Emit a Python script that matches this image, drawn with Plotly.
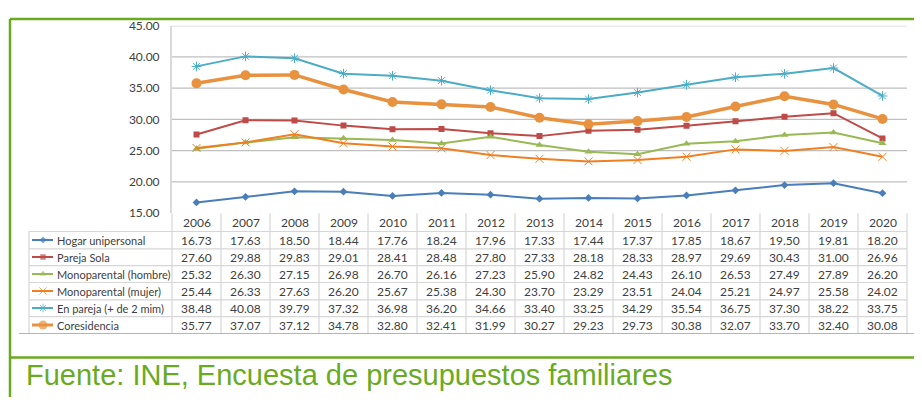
import plotly.graph_objects as go

years = [str(y) for y in range(2006, 2021)]
series_names = ["Hogar unipersonal", "Pareja Sola", "Monoparental (hombre)",
                "Monoparental (mujer)", "En pareja (+ de 2 mim)", "Coresidencia"]
hogar = [16.73, 17.63, 18.50, 18.44, 17.76, 18.24, 17.96, 17.33, 17.44, 17.37, 17.85, 18.67, 19.50, 19.81, 18.20]
pareja_sola = [27.60, 29.88, 29.83, 29.01, 28.41, 28.48, 27.80, 27.33, 28.18, 28.33, 28.97, 29.69, 30.43, 31.00, 26.96]
mono_hombre = [25.32, 26.30, 27.15, 26.98, 26.70, 26.16, 27.23, 25.90, 24.82, 24.43, 26.10, 26.53, 27.49, 27.89, 26.20]
mono_mujer = [25.44, 26.33, 27.63, 26.20, 25.67, 25.38, 24.30, 23.70, 23.29, 23.51, 24.04, 25.21, 24.97, 25.58, 24.02]
en_pareja = [38.48, 40.08, 39.79, 37.32, 36.98, 36.20, 34.66, 33.40, 33.25, 34.29, 35.54, 36.75, 37.30, 38.22, 33.75]
coresidencia = [35.77, 37.07, 37.12, 34.78, 32.80, 32.41, 31.99, 30.27, 29.23, 29.73, 30.38, 32.07, 33.70, 32.40, 30.08]
all_values = [hogar, pareja_sola, mono_hombre, mono_mujer, en_pareja, coresidencia]
y_ticks = [15, 20, 25, 30, 35, 40, 45]
source_text = "Fuente: INE, Encuesta de presupuestos familiares"

styles = [
    dict(color="#4A7EBB", width=2, symbol="diamond", size=6, mline=0),
    dict(color="#BE4B48", width=2, symbol="square", size=6, mline=0),
    dict(color="#98B954", width=2, symbol="triangle-up", size=7, mline=0),
    dict(color="#F07F22", width=2, symbol="x-thin-open", size=8, mline=1),
    dict(color="#4BACC6", width=2, symbol="asterisk-open", size=8, mline=1),
    dict(color="#E8913F", width=3.5, symbol="circle", size=10, mline=0),
]

# page has an 8px body margin: figure is drawn at (8, 8); keep it inside the window
OFF = 8
W, H = 922 - 2 * OFF, 412 - 2 * OFF
def px(x): return (x - OFF) / W
def py(y): return 1 - (y - OFF) / H

FONT = "Lato, Calibri, sans-serif"
TXT = "#404040"
GREEN = "#6AAA1E"

fig = go.Figure()

for name, vals, st in zip(series_names, all_values, styles):
    fig.add_trace(go.Scatter(
        x=years, y=vals, mode="lines+markers", name=name,
        line=dict(color=st["color"], width=st["width"]),
        marker=dict(symbol=st["symbol"], size=st["size"], color=st["color"],
                    line=dict(color=st["color"], width=st["mline"])),
        showlegend=False, xaxis="x", yaxis="y"))

# legend icons in the table's first column
for i, (name, st) in enumerate(zip(series_names, styles)):
    fig.add_trace(go.Scatter(
        x=[32, 43, 53], y=[i, i, i], mode="lines+markers",
        line=dict(color=st["color"], width=min(st["width"], 3)),
        marker=dict(symbol=st["symbol"], size=[0, st["size"] * 0.9, 0], color=st["color"],
                    line=dict(color=st["color"], width=st["mline"])),
        showlegend=False, xaxis="x2", yaxis="y2", hoverinfo="skip"))

shapes = []
for t in y_ticks[1:-1]:
    shapes.append(dict(type="line", xref="x domain", yref="y", x0=0, x1=1, y0=t, y1=t,
                       line=dict(color="#BFBFBF", width=1.3), layer="below"))
shapes.append(dict(type="line", xref="x domain", yref="y", x0=0, x1=1, y0=45, y1=45,
                   line=dict(color="#EBEBEB", width=3), layer="below"))

# table grid
col_w = (907 - 172) / 15
row_edges = [213, 232, 250, 267.5, 285, 303, 320.5, 338]
grid_col = "#D6D6D6"
for k in range(16):
    x = 172 + k * col_w
    shapes.append(dict(type="line", xref="paper", yref="paper", x0=px(x), x1=px(x),
                       y0=py(213), y1=py(338), line=dict(color=grid_col, width=1.2)))
shapes.append(dict(type="line", xref="paper", yref="paper", x0=px(29), x1=px(29),
                   y0=py(232), y1=py(338), line=dict(color=grid_col, width=1.2)))
for j, ye in enumerate(row_edges):
    if j == 0:
        continue
    last = j == len(row_edges) - 1
    x0 = 19 if last else 29
    x1 = 922 if last else 907
    shapes.append(dict(type="line", xref="paper", yref="paper", x0=px(x0), x1=min(1, px(x1)),
                       y0=py(ye), y1=py(ye),
                       line=dict(color="#B5B5B5" if last else grid_col, width=1.2)))

# green frame
shapes += [
    dict(type="line", xref="paper", yref="paper", x0=px(10), x1=1, y0=py(11), y1=py(11),
         line=dict(color=GREEN, width=2.5)),
    dict(type="line", xref="paper", yref="paper", x0=px(10), x1=px(10), y0=py(11), y1=0,
         line=dict(color=GREEN, width=2.5)),
    dict(type="line", xref="paper", yref="paper", x0=px(10), x1=1, y0=py(363), y1=py(363),
         line=dict(color=GREEN, width=2.5)),
]

annotations = []
row_centers = [(row_edges[i] + row_edges[i + 1]) / 2 for i in range(len(row_edges) - 1)]
cell_font = dict(family=FONT, size=12, color=TXT)
label_font = dict(family=FONT, size=11, color=TXT)
for i, yr in enumerate(years):
    annotations.append(dict(x=i, xref="x", y=py(row_centers[0]), yref="paper", text=yr,
                            xanchor="center", yanchor="middle", showarrow=False, font=cell_font))
for r, (name, vals) in enumerate(zip(series_names, all_values)):
    yc = py(row_centers[r + 1])
    annotations.append(dict(x=px(55), xref="paper", y=yc, yref="paper", text=name,
                            xanchor="left", yanchor="middle", showarrow=False, font=label_font))
    for i, v in enumerate(vals):
        annotations.append(dict(x=i, xref="x", y=yc, yref="paper", text=f"{v:.2f}",
                                xanchor="center", yanchor="middle", showarrow=False,
                                font=cell_font))

annotations.append(dict(x=px(24), xref="paper", y=py(381), yref="paper", text=source_text,
                        xanchor="left", yanchor="middle", showarrow=False,
                        font=dict(family="Liberation Sans, Arial, sans-serif",
                                  size=29, color=GREEN)))

fig.update_layout(
    width=W, height=H, margin=dict(l=0, r=0, t=0, b=0),
    paper_bgcolor="white", plot_bgcolor="white",
    xaxis=dict(domain=[px(172), px(907)], type="category", categoryorder="array",
               categoryarray=years, range=[-0.5, 14.5], showticklabels=False,
               showgrid=False, zeroline=False, showline=False, fixedrange=True),
    yaxis=dict(domain=[py(213), py(18)], range=[15, 45], tickvals=y_ticks,
               tickformat=".2f", showgrid=False, zeroline=False,
               showline=True, linecolor="#D9D9D9", linewidth=2,
               ticks="", ticklabelstandoff=8,
               tickfont=dict(family=FONT, size=12, color=TXT)),
    xaxis2=dict(domain=[px(29), px(172)], range=[29, 172], visible=False, fixedrange=True),
    yaxis2=dict(domain=[py(338), py(232)], range=[5.5, -0.5], visible=False, fixedrange=True),
    shapes=shapes, annotations=annotations,
)

fig.write_html("out.html")
